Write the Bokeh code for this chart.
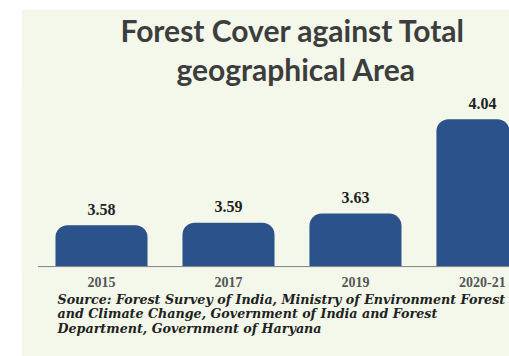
from bokeh.plotting import figure
from bokeh.models import (ColumnDataSource, Range1d, FixedTicker, Title, Spacer)
from bokeh.layouts import row, column
from bokeh.core.properties import value
from bokeh.embed import file_html
from bokeh.resources import INLINE

# ---- data ----
categories = ["2015", "2017", "2019", "2020-21"]
forest_cover_pct = [3.58, 3.59, 3.63, 4.04]
value_labels = ["3.58", "3.59", "3.63", "4.04"]
baseline = 3.40

title_lines = ["Forest Cover against Total", "geographical Area"]
source_lines = [
    "Source: Forest Survey of India, Ministry of Environment Forest",
    "and Climate Change, Government of India and Forest",
    "Department, Government of Haryana",
]

xs = list(range(len(categories)))
src = ColumnDataSource(dict(x=xs, top=forest_cover_pct, lab=value_labels))

BG = "#f3f8ea"
BAR = "#2b528a"

p = figure(width=488, height=347, output_backend="svg", toolbar_location=None,
           x_range=Range1d(-0.63, 3.213), y_range=Range1d(baseline - 0.004, 4.156),
           y_axis_location=None, min_border_left=0, min_border_right=0,
           min_border_top=81, min_border_bottom=89)
p.background_fill_color = BG
p.border_fill_color = BG
p.outline_line_color = None
p.grid.visible = False
p.title.visible = False

p.vbar(x="x", top="top", bottom=baseline, width=0.725, source=src,
       fill_color=BAR, line_color=None, border_radius=(12, 12, 0, 0))

# baseline rule under the bars
p.segment(x0=[xs[0] - 0.5], x1=[xs[-1] + 0.5], y0=[baseline], y1=[baseline],
          line_color="#8a8d88", line_width=1.2)

p.text(x="x", y="top", text="lab", source=src, text_align="center",
       text_baseline="alphabetic", y_offset=-16,
       text_font=value("Liberation Serif"), text_font_style="bold",
       text_font_size="16px", text_color="#222222")

ax = p.xaxis[0]
ax.ticker = FixedTicker(ticks=xs)
ax.major_label_overrides = {i: c for i, c in zip(xs, categories)}
ax.axis_line_color = None
ax.major_tick_line_color = None
ax.minor_tick_line_color = None
ax.major_tick_out = 0
ax.major_tick_in = 0
ax.major_label_standoff = 9
ax.major_label_text_font = "Liberation Serif"
ax.major_label_text_font_style = "bold"
ax.major_label_text_font_size = "14px"
ax.major_label_text_color = "#555555"

# titles above (last added is outermost)
title_offsets = [99, 155]
title_standoffs = [0, 7]
title_valign = ["bottom", "top"]
for line, off, so, va in reversed(list(zip(title_lines, title_offsets, title_standoffs, title_valign))):
    p.add_layout(Title(text=line, align="left", offset=off,
                       text_font="Lato", text_font_style="bold",
                       text_font_size="30px", text_color="#3d3d3d",
                       standoff=so, vertical_align=va), "above")

p.add_layout(Title(text="\n".join(source_lines), align="left", offset=36,
                   text_font="DejaVu Serif", text_font_style="bold italic",
                   text_font_size="12.7px", text_color="#222222",
                   text_line_height=0.95, standoff=0), "below")

layout = column(Spacer(width=509, height=9),
                row(Spacer(width=21, height=347), p))

open("out.html", "w").write(file_html(layout, INLINE))
